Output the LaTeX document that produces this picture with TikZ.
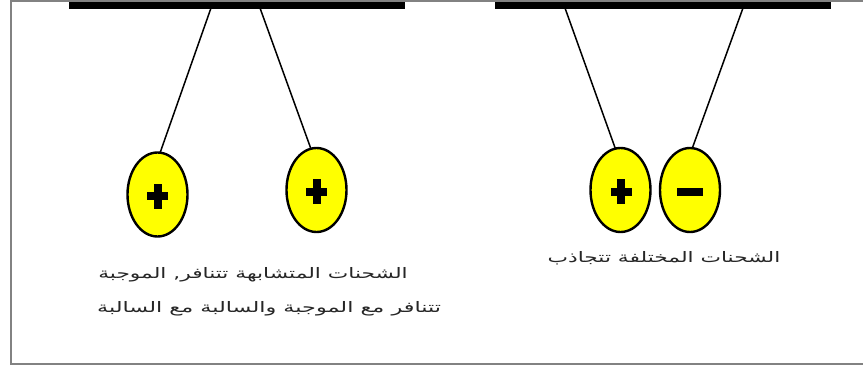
\documentclass[tikz,border=0pt]{standalone}
\usepackage{fontspec}
\usetikzlibrary{shapes.geometric}
\newfontfamily\arabicfont[Script=Arabic,FakeStretch=1.5]{DejaVu Sans}
\newfontfamily\arabicwide[Script=Arabic,FakeStretch=1.54]{DejaVu Sans}
\TeXXeTstate=1
\definecolor{ballyellow}{RGB}{255,255,0}
\definecolor{framegrey}{RGB}{130,130,130}
\tikzset{
  frameline/.style={draw=framegrey,line width=2pt},
  rail/.style={fill=black},
  thread/.style={draw=black,line width=1.5pt},
  charge/.style={ellipse,draw=black,fill=ballyellow,line width=2.4pt,minimum width=60pt,minimum height=84pt,inner sep=0pt},
  sign/.style={fill=black},
  caption/.style={font=\arabicfont\fontsize{14.5}{16}\selectfont,text=black!85,inner sep=0pt,anchor=center},
  widecaption/.style={caption,font=\arabicwide\fontsize{14.5}{16}\selectfont}
}
\begin{document}
\begin{tikzpicture}[x=1pt,y=-1pt]
  \useasboundingbox (0,0) rectangle (863,365);
  \fill[white] (0,0) rectangle (863,365);
  % outer frame, open on the right
  \draw[frameline] (863,0.8) -- (10.5,0.8) -- (10.5,363.5) -- (863,363.5);
  % support bars
  \fill[rail] (69,1.8) rectangle (405,8.5);
  \fill[rail] (495,1.8) rectangle (831,8.5);
  % charged balls
  \node[charge] (a) at (157.5,194.5) {};
  \node[charge] (b) at (316.5,190) {};
  \node[charge] (c) at (620.5,190) {};
  \node[charge] (d) at (690,190) {};
  % threads between the bars and the balls
  \coordinate (a0) at (211,8);
  \coordinate (b0) at (260,8);
  \coordinate (c0) at (565,8);
  \coordinate (d0) at (743,8);
  \coordinate (a1) at (160,153);
  \coordinate (b1) at (311,149);
  \coordinate (c1) at (615.5,149);
  \coordinate (d1) at (692,149);
  \draw[thread] (a0) -- (a1);
  \draw[thread] (b0) -- (b1);
  \draw[thread] (c0) -- (c1);
  \draw[thread] (d0) -- (d1);
  % signs
  \foreach \n/\dx/\dy in {a/0/1.5,b/0/1.5,c/0.5/1.5}{
    \fill[sign] ([xshift=\dx pt-10.5pt,yshift=-\dy pt+4pt]\n.center) rectangle ([xshift=\dx pt+10.5pt,yshift=-\dy pt-4pt]\n.center);
    \fill[sign] ([xshift=\dx pt-4pt,yshift=-\dy pt+12.5pt]\n.center) rectangle ([xshift=\dx pt+4pt,yshift=-\dy pt-12.5pt]\n.center);
  }
  \fill[sign] ([xshift=-13pt,yshift=-2pt+4pt]d.center) rectangle ([xshift=12.5pt,yshift=-2pt-4pt]d.center);
  % captions
  \node[caption] (t1) at (253,274.5) {\beginR الشحنات المتشابهة تتنافر, الموجبة\endR};
  \node[widecaption] (t2) at (269,308.5) {\beginR تتنافر مع الموجبة والسالبة مع السالبة\endR};
  \node[caption] (t3) at (664,258) {\beginR الشحنات المختلفة تتجاذب\endR};
\end{tikzpicture}
\end{document}
